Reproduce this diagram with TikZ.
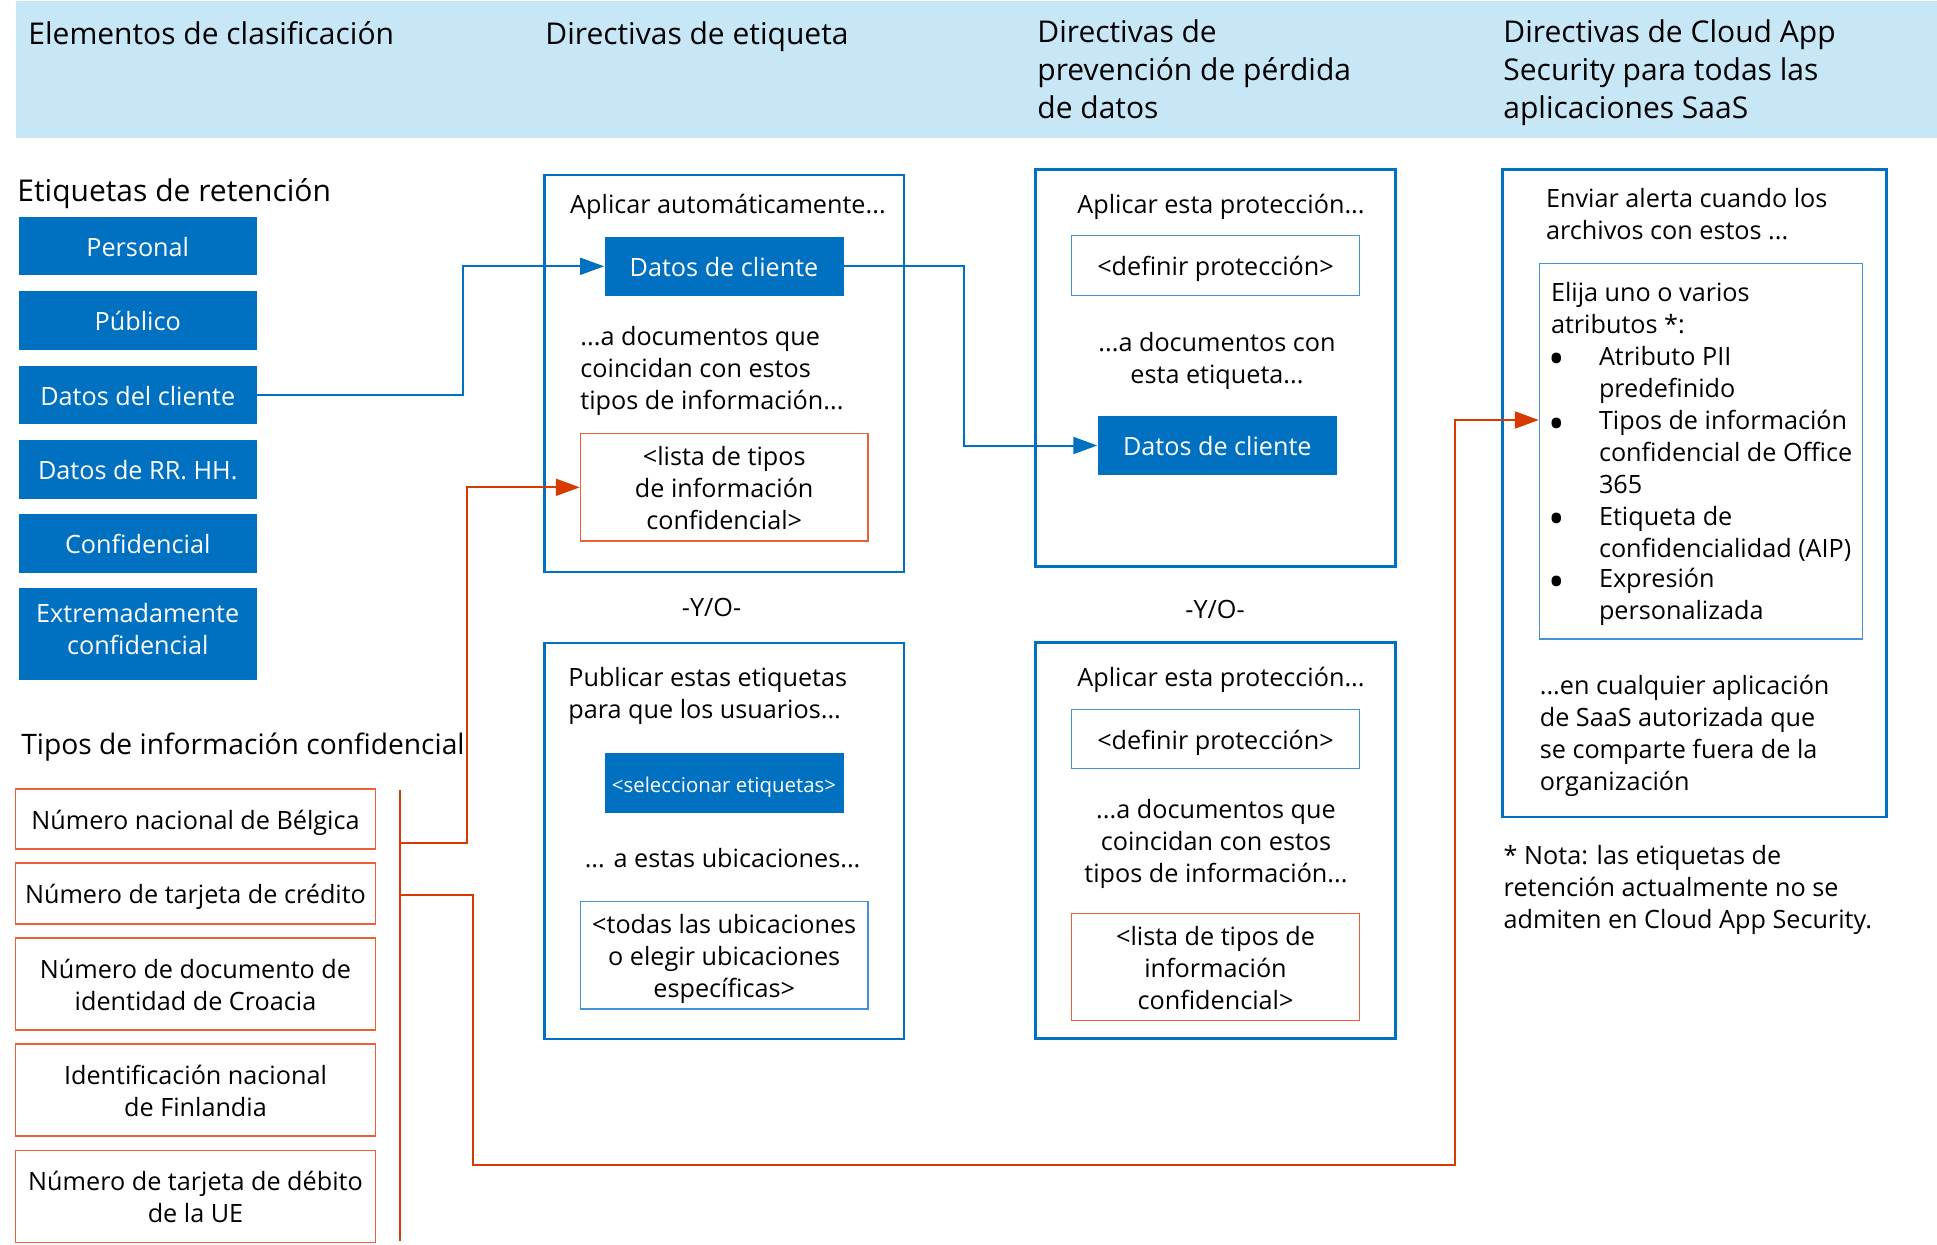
\documentclass[tikz,border=0pt]{standalone}
\usepackage{fontspec}
\setmainfont{Open Sans}
\usetikzlibrary{arrows.meta}
\definecolor{hdrblue}{RGB}{199,230,246}
\definecolor{msblue}{RGB}{0,112,192}
\definecolor{lightb}{RGB}{70,145,215}
\definecolor{oborder}{RGB}{234,96,56}
\definecolor{oline}{RGB}{216,59,1}
\newcommand\mytopb{\rule[-4.8pt]{0pt}{19.7pt}}
\newcommand\mybotb{\rule[-4.8pt]{0pt}{4.8pt}}
\newcommand\mytoph{\rule[-5.7pt]{0pt}{24pt}}
\newcommand\myboth{\rule[-5.7pt]{0pt}{5.7pt}}
\begin{document}
\begin{tikzpicture}[x=0.5pt,y=-0.5pt,
  wh/.style 2 args={minimum width=#1*0.5pt, minimum height=#2*0.5pt},
  stb/.style={execute at begin node=\mytopb, execute at end node=\mybotb},
  sth/.style={execute at begin node=\mytoph, execute at end node=\myboth},
  hdr/.style={sth, font=\fontsize{15}{19}\selectfont, align=left, anchor=west, inner sep=0},
  body/.style={stb, font=\fontsize{12.6}{16}\selectfont, inner sep=0},
  lbl/.style={body, fill=msblue, text=white, align=center, inner sep=0},
  obox/.style={body, draw=oborder, line width=0.8pt, align=center, inner sep=0},
  tbox/.style={body, draw=lightb, line width=0.6pt, align=center, inner sep=0},
  rbox/.style={body, draw=oborder, line width=0.6pt, align=center, inner sep=0},
  frame/.style={draw=msblue, line width=1.3pt, inner sep=0},
  bconn/.style={draw=msblue, line width=1pt},
  oconn/.style={draw=oline, line width=1pt},
  tip/.style={-{Triangle[length=12pt,width=8.5pt]}},
  bul/.style={font=\fontsize{22}{22}\selectfont, inner sep=0},
]
\useasboundingbox (0,0) rectangle (1937,1244);
% header band
\fill[hdrblue] (16,1) rectangle (1937,138);
\node[hdr] (h1) at (28,32) {Elementos de clasificación};
\node[hdr] (h2) at (545,32) {Directivas de etiqueta};
\node[hdr] (h3) at (1037,68) {\mytoph Directivas de\\prevención de pérdida\\de datos};
\node[hdr] (h4) at (1503,68) {\mytoph Directivas de Cloud App\\Security para todas las\\aplicaciones SaaS};

% left column
\node[hdr] (t1) at (17,189) {Etiquetas de retención};
\node[lbl, wh={238.5}{58}] (l1) at (137.75,246) {Personal};
\node[lbl, wh={238.5}{59}] (l2) at (137.75,320.5) {Público};
\node[lbl, wh={238.5}{58}] (l3) at (137.75,395) {Datos del cliente};
\node[lbl, wh={238.5}{59}] (l4) at (137.75,469.5) {Datos de RR. HH.};
\node[lbl, wh={238.5}{59}] (l5) at (137.75,543.5) {Confidencial};
\node[lbl, wh={238.5}{92}] (l6) at (137.75,634) {Extremadamente\\confidencial};

\node[hdr, font=\fontsize{14.1}{19}\selectfont] (t2) at (21,742) {Tipos de información confidencial};
\node[obox, wh={360}{60}] (o1) at (195.5,819) {Número nacional de Bélgica};
\node[obox, wh={360}{61}] (o2) at (195.5,893.5) {Número de tarjeta de crédito};
\node[obox, wh={360}{92}] (o3) at (195.5,984) {\mytopb Número de documento de\\identidad de Croacia};
\node[obox, wh={360}{92}] (o4) at (195.5,1090) {\mytopb Identificación nacional\\de Finlandia};
\node[obox, wh={360}{92}] (o5) at (195.5,1196.5) {\mytopb Número de tarjeta de débito\\de la UE};

% column 2
\node[frame, wh={359.4}{397}] (a1) at (724.3,373.5) {};
\node[body] (a1t) at (728,203) {Aplicar automáticamente...};
\node[lbl, wh={239}{59.5}] (dc1) at (724,266.3) {Datos de cliente};
\node[body, align=left, anchor=west] (a1d) at (580,367.5) {\mytopb ...a documentos que\\coincidan con estos\\tipos de información...};
\node[rbox, wh={287.6}{107.4}] (ls1) at (724.2,487.3) {\mytopb <lista de tipos\\de información\\confidencial>};
\node[body] (yo1) at (711.5,606.5) {-Y/O-};
\node[frame, wh={359.4}{396}] (a2) at (724.3,841) {};
\node[body, align=left, anchor=west] (a2t) at (568,692) {\mytopb Publicar estas etiquetas\\para que los usuarios...};
\node[lbl, wh={239}{60}, font=\fontsize{10.2}{12}\selectfont, execute at begin node={}, execute at end node={}] (sel) at (724,782.75) {<seleccionar etiquetas>};
\node[body] (a2u) at (722.6,857) {... a estas ubicaciones...};
\node[tbox, wh={287.6}{107.6}] (ubi) at (724.2,955.2) {\mytopb <todas las ubicaciones\\o elegir ubicaciones\\específicas>};

% column 3
\node[frame, wh={360}{397}] (b1) at (1215.5,368) {};
\node[body] (b1t) at (1221,203) {Aplicar esta protección...};
\node[tbox, wh={288}{59.7}] (df1) at (1215.5,265.5) {<definir protección>};
\node[body, align=center] (b1d) at (1217,357) {\mytopb ...a documentos con\\esta etiqueta...};
\node[lbl, wh={239.3}{59}] (dc2) at (1217.3,445.5) {Datos de cliente};
\node[body] (yo2) at (1215,608) {-Y/O-};
\node[frame, wh={360}{396}] (b2) at (1215.5,840.6) {};
\node[body] (b2t) at (1221,676) {Aplicar esta protección...};
\node[tbox, wh={288}{59}] (df2) at (1215.5,739.2) {<definir protección>};
\node[body, align=center] (b2d) at (1216,840.7) {\mytopb ...a documentos que\\coincidan con estos\\tipos de información...};
\node[rbox, wh={288}{107.2}] (ls2) at (1215.5,966.9) {\mytopb <lista de tipos de\\información\\confidencial>};

% column 4
\node[frame, wh={384}{647.5}] (c1) at (1694.5,493.25) {};
\node[body, align=left, anchor=west] (c1t) at (1545.7,213.75) {\mytopb Enviar alerta cuando los\\archivos con estos ...};
\node[tbox, wh={323.4}{375.7}] (inn) at (1701.1,451.15) {};
\node[body, align=left, anchor=west] (i0) at (1550.6,307) {\mytopb Elija uno o varios\\atributos *:};
\node[bul] (bu1) at (1557,364) {•};
\node[bul] (bu2) at (1557,429) {•};
\node[bul] (bu3) at (1557,524) {•};
\node[bul] (bu4) at (1557,587) {•};
\node[body, align=left, anchor=west] (i1) at (1598.6,371) {\mytopb Atributo PII\\predefinido};
\node[body, align=left, anchor=west] (i2) at (1598.6,451.6) {\mytopb Tipos de información\\confidencial de Office\\365};
\node[body, align=left, anchor=west] (i3) at (1598.6,531.2) {\mytopb Etiqueta de\\confidencialidad (AIP)};
\node[body, align=left, anchor=west] (i4) at (1598.6,593.4) {\mytopb Expresión\\personalizada};
\node[body, align=left, anchor=west] (c1d) at (1539.4,732.65) {\mytopb ...en cualquier aplicación\\de SaaS autorizada que\\se comparte fuera de la\\organización};
\node[body, align=left, anchor=west] (note) at (1503.3,886.65) {\mytopb * Nota: las etiquetas de\\retención actualmente no se\\admiten en Cloud App Security.};

% blue connectors
\coordinate (bj1) at (463,395);
\draw[bconn, tip] (l3.east) -- (bj1) |- (dc1.west);
\coordinate (bj2) at (964,266.3);
\draw[bconn, tip] (dc1.east) -- (bj2) |- (dc2.west);

% orange connectors
\coordinate (sp1) at (400,790);
\coordinate (sp2) at (400,1241);
\draw[oconn] (sp1) -- (sp2);
\coordinate (oj1) at (400,843);
\coordinate (oj2) at (467,843);
\draw[oconn, tip] (oj1) -- (oj2) |- (ls1.west);
\coordinate (oj3) at (400,895);
\coordinate (oj4) at (473,895);
\coordinate (oj5) at (473,1165);
\coordinate (oj6) at (1455,1165);
\coordinate (oj7) at (1455,420);
\draw[oconn, tip] (oj3) -- (oj4) -- (oj5) -- (oj6) -- (oj7) -- (inn.west |- oj7);
\end{tikzpicture}
\end{document}
